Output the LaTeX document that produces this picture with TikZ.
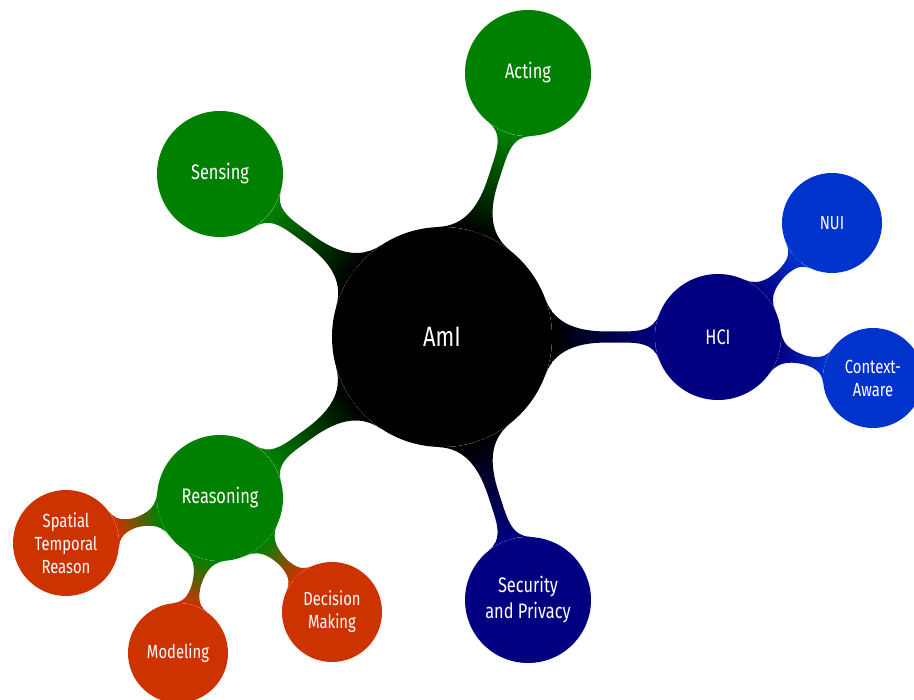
\documentclass[tikz,border=0pt]{standalone}
\usepackage{fontspec}
\setmainfont{Fira Sans}[FakeStretch=0.78]
\usetikzlibrary{mindmap}
\definecolor{cgreen}{RGB}{0,128,0}
\definecolor{cnavy}{RGB}{0,0,128}
\definecolor{cblue}{RGB}{0,51,204}
\definecolor{corange}{RGB}{204,51,0}
\begin{document}
\begin{tikzpicture}[x=1pt,y=-1pt,
  cnode/.style={circle, draw=none, text=white, align=center, inner sep=0pt},
  rootc/.style={cnode, fill=black, minimum size=220pt, font=\fontsize{28}{32}\selectfont},
  lone/.style={cnode, minimum size=126pt, font=\fontsize{21}{26}\selectfont},
  ltwo/.style={cnode, minimum size=100pt, font=\fontsize{19}{23}\selectfont},
  bar/.style={mindmap, line width=12pt},
  barsmall/.style={mindmap, line width=9pt},
]
\useasboundingbox (0,0) rectangle (914,700);
\node[rootc] (ami) at (442,337) {AmI};
\node[lone, fill=cgreen] (acting) at (528,73) {Acting};
\node[lone, fill=cgreen] (sensing) at (220,174) {Sensing};
\node[lone, fill=cgreen] (reasoning) at (220,498) {Reasoning};
\node[lone, fill=cnavy] (hci) at (718,337) {HCI};
\node[lone, fill=cnavy] (security) at (528,600) {Security\\and Privacy};
\node[ltwo, fill=cblue] (nui) at (832,223) {NUI};
\node[ltwo, fill=cblue] (context) at (873,378) {Context-\\Aware};
\node[ltwo, fill=corange, minimum size=106pt] (spatial) at (66,543) {Spatial\\Temporal\\Reason};
\node[ltwo, fill=corange] (modeling) at (178,653) {Modeling};
\node[ltwo, fill=corange] (decision) at (332,612) {Decision\\Making};

\path[bar] (ami) to[circle connection bar switch color=from (black) to (cgreen)] (acting);
\path[bar] (ami) to[circle connection bar switch color=from (black) to (cgreen)] (sensing);
\path[bar] (ami) to[circle connection bar switch color=from (black) to (cgreen)] (reasoning);
\path[bar] (ami) to[circle connection bar switch color=from (black) to (cnavy)] (hci);
\path[bar] (ami) to[circle connection bar switch color=from (black) to (cnavy)] (security);
\path[barsmall] (hci) to[circle connection bar switch color=from (cnavy) to (cblue)] (nui);
\path[barsmall] (hci) to[circle connection bar switch color=from (cnavy) to (cblue)] (context);
\path[barsmall] (reasoning) to[circle connection bar switch color=from (cgreen) to (corange)] (spatial);
\path[barsmall] (reasoning) to[circle connection bar switch color=from (cgreen) to (corange)] (modeling);
\path[barsmall] (reasoning) to[circle connection bar switch color=from (cgreen) to (corange)] (decision);
\end{tikzpicture}
\end{document}
